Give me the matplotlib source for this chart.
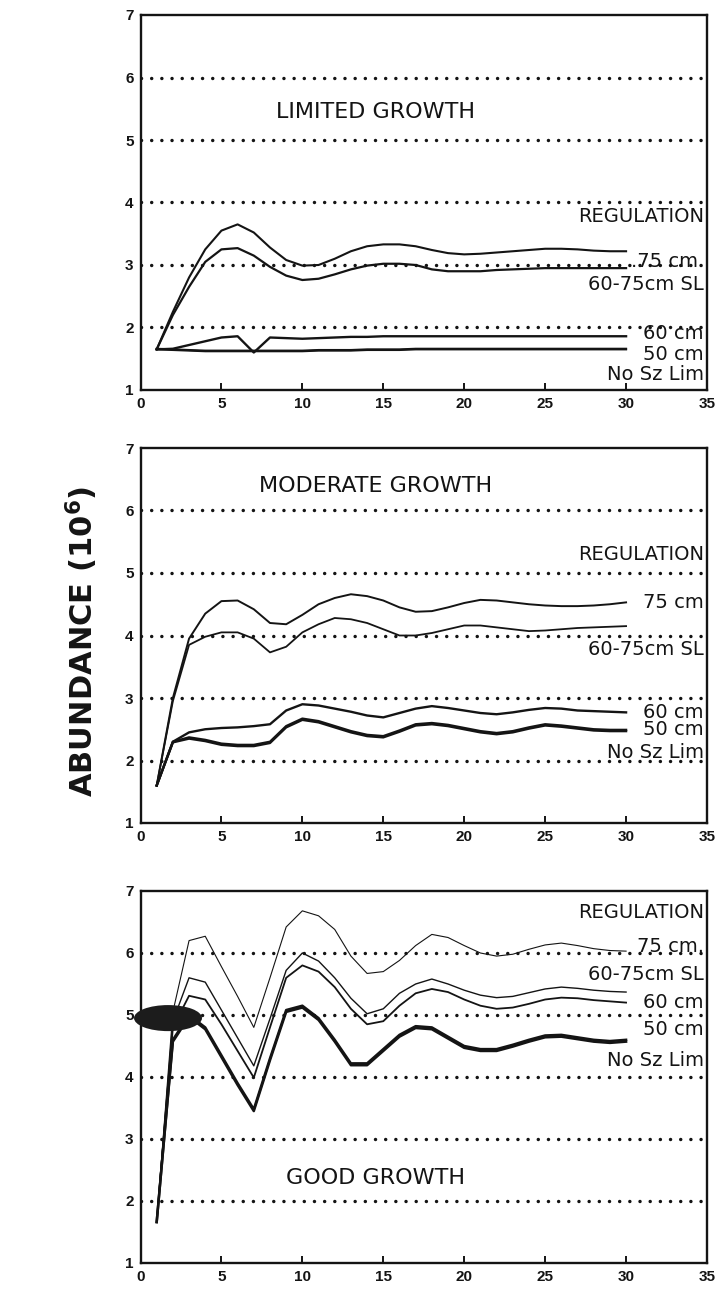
import matplotlib
matplotlib.use("Agg")
import matplotlib.pyplot as plt
from matplotlib.patches import Ellipse

# ---------------- data ----------------
years = list(range(1, 31))

# LIMITED GROWTH
lim_75 = [1.65, 2.25, 2.8, 3.25, 3.55, 3.65, 3.52, 3.28, 3.08, 2.99, 3.0, 3.1, 3.22, 3.3, 3.33,
          3.33, 3.3, 3.24, 3.19, 3.17, 3.18, 3.2, 3.22, 3.24, 3.26, 3.26, 3.25, 3.23, 3.22, 3.22]
lim_sl = [1.65, 2.2, 2.65, 3.05, 3.25, 3.27, 3.15, 2.97, 2.83, 2.76, 2.78, 2.85, 2.93, 2.99, 3.02,
          3.02, 3.0, 2.93, 2.9, 2.9, 2.9, 2.92, 2.93, 2.94, 2.95, 2.95, 2.95, 2.95, 2.95, 2.95]
lim_60 = [1.65, 1.66, 1.72, 1.78, 1.84, 1.86, 1.6, 1.84, 1.83, 1.82, 1.83, 1.84, 1.85, 1.85, 1.86,
          1.86, 1.86, 1.86, 1.86, 1.86, 1.86, 1.86, 1.86, 1.86, 1.86, 1.86, 1.86, 1.86, 1.86, 1.86]
lim_50 = [1.66, 1.65, 1.64, 1.63, 1.63, 1.63, 1.63, 1.63, 1.63, 1.63, 1.64, 1.64, 1.64, 1.65, 1.65,
          1.65, 1.66, 1.66, 1.66, 1.66, 1.66, 1.66, 1.66, 1.66, 1.66, 1.66, 1.66, 1.66, 1.66, 1.66]
lim_nolim = [1.65, 1.64, 1.63, 1.62, 1.62, 1.62, 1.62, 1.62, 1.62, 1.62, 1.63, 1.63, 1.63, 1.64, 1.64,
             1.64, 1.65, 1.65, 1.65, 1.65, 1.65, 1.65, 1.65, 1.65, 1.65, 1.65, 1.65, 1.65, 1.65, 1.65]

# MODERATE GROWTH
mod_75 = [1.6, 3.0, 3.95, 4.35, 4.55, 4.56, 4.42, 4.2, 4.18, 4.33, 4.5, 4.6, 4.66, 4.63, 4.56,
          4.45, 4.38, 4.39, 4.45, 4.52, 4.57, 4.56, 4.53, 4.5, 4.48, 4.47, 4.47, 4.48, 4.5, 4.53]
mod_sl = [1.6, 2.95, 3.85, 3.98, 4.05, 4.05, 3.95, 3.73, 3.82, 4.05, 4.18, 4.28, 4.26, 4.2, 4.1,
          4.0, 4.0, 4.04, 4.1, 4.16, 4.16, 4.13, 4.1, 4.07, 4.08, 4.1, 4.12, 4.13, 4.14, 4.15]
mod_60 = [1.6, 2.3, 2.45, 2.5, 2.52, 2.53, 2.55, 2.58, 2.8, 2.9, 2.88, 2.83, 2.78, 2.72, 2.69,
          2.76, 2.83, 2.87, 2.84, 2.8, 2.76, 2.74, 2.77, 2.81, 2.84, 2.83, 2.8, 2.79, 2.78, 2.77]
mod_50 = [1.6, 2.3, 2.37, 2.33, 2.27, 2.25, 2.25, 2.3, 2.55, 2.67, 2.63, 2.55, 2.47, 2.41, 2.39,
          2.48, 2.58, 2.6, 2.57, 2.52, 2.47, 2.44, 2.47, 2.53, 2.58, 2.56, 2.53, 2.5, 2.49, 2.49]
mod_nolim = [1.6, 2.29, 2.35, 2.31, 2.25, 2.23, 2.23, 2.28, 2.53, 2.65, 2.61, 2.53, 2.45, 2.39, 2.37,
             2.46, 2.56, 2.58, 2.55, 2.5, 2.45, 2.42, 2.45, 2.51, 2.56, 2.54, 2.51, 2.48, 2.47, 2.47]

# GOOD GROWTH
good_75 = [1.66, 5.05, 6.2, 6.27, 5.78, 5.3, 4.8, 5.6, 6.42, 6.68, 6.6, 6.38, 5.95, 5.67, 5.7,
           5.88, 6.12, 6.3, 6.25, 6.12, 6.0, 5.95, 5.98, 6.06, 6.13, 6.16, 6.12, 6.07, 6.04, 6.03]
good_sl = [1.66, 4.9, 5.6, 5.53, 5.08, 4.63, 4.18, 4.94, 5.72, 6.0, 5.87, 5.6, 5.27, 5.02, 5.1,
           5.35, 5.5, 5.58, 5.5, 5.4, 5.32, 5.28, 5.3, 5.36, 5.42, 5.45, 5.43, 5.4, 5.38, 5.37]
good_60 = [1.66, 4.8, 5.31, 5.25, 4.85, 4.42, 3.99, 4.8, 5.6, 5.8, 5.7, 5.45, 5.1, 4.85, 4.9,
           5.15, 5.35, 5.42, 5.37, 5.25, 5.15, 5.1, 5.12, 5.18, 5.25, 5.28, 5.27, 5.24, 5.22, 5.2]
good_50 = [1.66, 4.6, 5.0, 4.8, 4.35, 3.9, 3.48, 4.3, 5.08, 5.15, 4.95, 4.6, 4.22, 4.22, 4.45,
           4.68, 4.82, 4.8, 4.65, 4.5, 4.45, 4.45, 4.52, 4.6, 4.67, 4.68, 4.64, 4.6, 4.58, 4.6]
good_nolim = [1.66, 4.57, 4.97, 4.77, 4.32, 3.87, 3.45, 4.27, 5.05, 5.12, 4.92, 4.57, 4.19, 4.19, 4.42,
              4.65, 4.79, 4.77, 4.62, 4.47, 4.42, 4.42, 4.49, 4.57, 4.64, 4.65, 4.61, 4.57, 4.55, 4.57]

x_ticks = [0, 5, 10, 15, 20, 25, 30, 35]
y_ticks = [1, 2, 3, 4, 5, 6, 7]
grid_levels = [2, 3, 4, 5, 6]

titles = ["LIMITED GROWTH", "MODERATE GROWTH", "GOOD GROWTH"]
legend_head = "REGULATION"
labels = [
    [".75 cm.", "60-75cm SL", "60 cm", "50 cm", "No Sz Lim"],
    ["75 cm", "60-75cm SL", "60 cm", "50 cm", "No Sz Lim"],
    ["75 cm.", "60-75cm SL", "60 cm", "50 cm", "No Sz Lim"],
]

# ---------------- figure ----------------
fig = plt.figure(figsize=(7.18, 12.92), dpi=100)
INK = "#141414"

axes_rects = [
    [140.5 / 718, 1 - 390 / 1292, 566.5 / 718, 375 / 1292],
    [140.5 / 718, 1 - 823 / 1292, 566.5 / 718, 375 / 1292],
    [140.5 / 718, 1 - 1263 / 1292, 566.5 / 718, 372 / 1292],
]

series = [
    (lim_75, lim_sl, lim_60, lim_50, lim_nolim),
    (mod_75, mod_sl, mod_60, mod_50, mod_nolim),
    (good_75, good_sl, good_60, good_50, good_nolim),
]
widths = [
    (1.5, 1.6, 1.7, 1.5, 1.5),
    (1.4, 1.3, 1.7, 1.7, 1.7),
    (0.8, 1.0, 1.3, 1.8, 1.8),
]

# text positions (data coords) per panel
title_pos = [(14.5, 5.45), (14.5, 6.4), (14.5, 2.37)]
head_y = [3.77, 5.3, 6.65]
label_y = [
    [3.06, 2.68, 1.9, 1.56, 1.24],
    [4.52, 3.77, 2.76, 2.49, 2.12],
    [6.1, 5.65, 5.2, 4.76, 4.27],
]

GRID_LW = 2.5
for i, rect in enumerate(axes_rects):
    ax = fig.add_axes(rect)
    ax.set_xlim(0, 35)
    ax.set_ylim(1, 7)
    for lvl in grid_levels:
        ax.axhline(lvl, color=INK, lw=GRID_LW, linestyle=(0, (0.01, 7.3 / GRID_LW)),
                   dash_capstyle="round", zorder=1)
    for s, w in zip(series[i], widths[i]):
        ax.plot(years, s, color=INK, lw=w, zorder=3, solid_joinstyle="round")
    for sp in ax.spines.values():
        sp.set_linewidth(1.7)
        sp.set_color(INK)
    ax.set_xticks(x_ticks)
    ax.set_yticks(y_ticks)
    ax.set_xticklabels([str(t) for t in x_ticks], fontsize=11,
                       fontweight="bold", family="Liberation Sans")
    ax.set_yticklabels([str(t) for t in y_ticks], fontsize=11,
                       fontweight="bold", family="Liberation Sans")
    ax.tick_params(axis="x", direction="in", length=5, width=1.4, pad=5, colors=INK)
    ax.tick_params(axis="y", direction="in", length=0, pad=5, colors=INK)

    ax.text(title_pos[i][0], title_pos[i][1], titles[i], fontsize=16,
            ha="center", va="center", color=INK, family="DejaVu Sans")
    ax.text(34.8, head_y[i], legend_head, fontsize=14, ha="right", va="center",
            color=INK, family="DejaVu Sans")
    for lab, ly in zip(labels[i], label_y[i]):
        ax.text(34.8, ly, lab, fontsize=14, ha="right", va="center",
                color=INK, family="DejaVu Sans")

    if i == 2:
        # dark smudge present in the scanned original
        ax.add_patch(Ellipse((1.7, 4.95), 4.2, 0.42, facecolor="#1c1c1c",
                             edgecolor="none", clip_on=False, zorder=5))

plt.rcParams["mathtext.fontset"] = "custom"
plt.rcParams["mathtext.bf"] = "DejaVu Sans:bold"
plt.rcParams["mathtext.rm"] = "DejaVu Sans:bold"
fig.text(82 / 718, 1 - 641 / 1292, r"ABUNDANCE (10$^{\mathbf{6}}$)", rotation=90,
         fontsize=22, fontweight="bold", family="DejaVu Sans",
         ha="center", va="center", color=INK)

fig.savefig("out.png", dpi=100, facecolor="white")
